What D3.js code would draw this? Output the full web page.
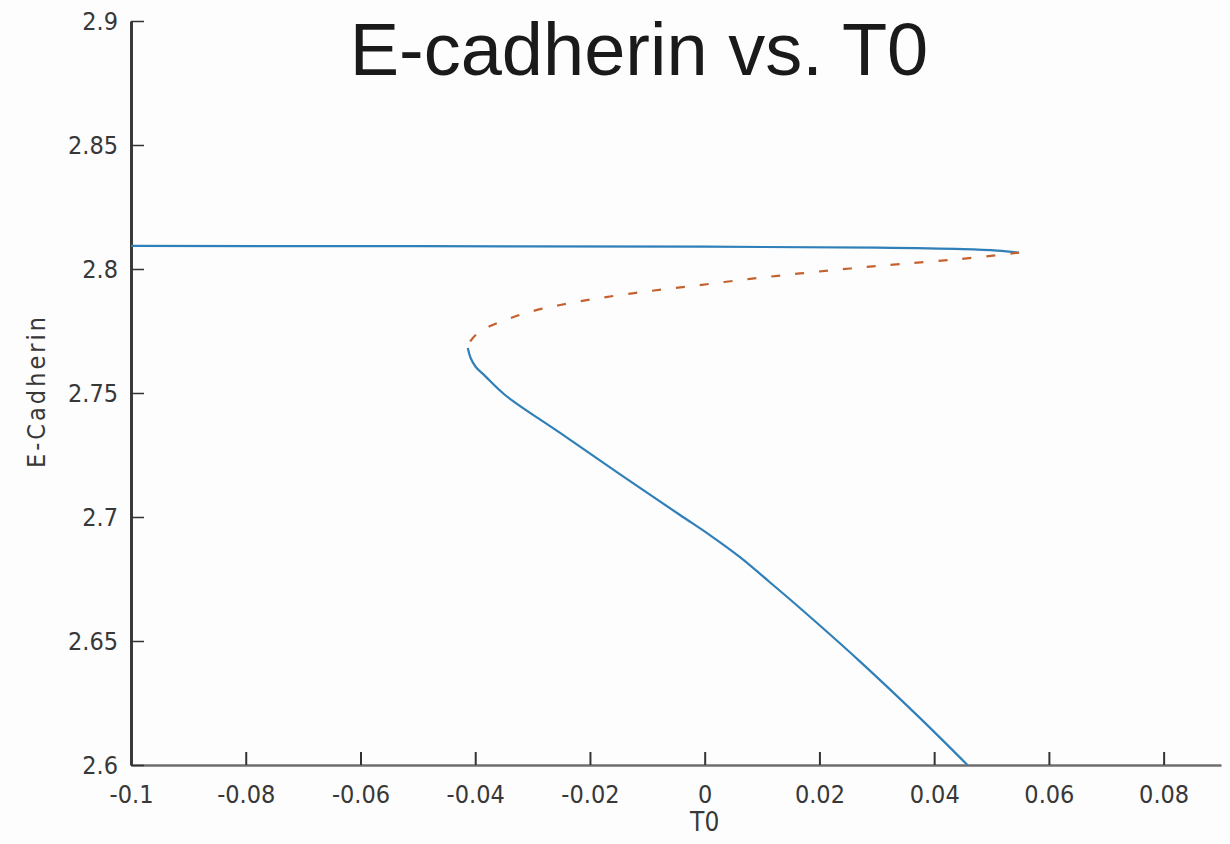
<!DOCTYPE html>
<html>
<head>
<meta charset="utf-8">
<script src="https://cdn.jsdelivr.net/npm/d3@7"></script>
<style>
  html, body { margin: 0; padding: 0; background: #fff; }
  .tick text { font-family: "DejaVu Sans Condensed", "DejaVu Sans", sans-serif; font-stretch: condensed; }
</style>
</head>
<body>
<div id="chart"></div>
<script>
// Stable upper branch
const upperT0 = [-0.1, -0.05, 0.0, 0.03, 0.045, 0.051, 0.0548];
const upperEcad = [2.8093, 2.8092, 2.8090, 2.8086, 2.8080, 2.8074, 2.8066];

// Unstable middle branch (dashed)
const midT0 = [0.0548, 0.0445, 0.0340, 0.0253, 0.0166, 0.0079, -0.0009, -0.0096, -0.0183,
  -0.0252, -0.0305, -0.0343, -0.0374, -0.0395, -0.0408, -0.0413];
const midEcad = [2.8066, 2.8040, 2.8020, 2.8002, 2.7982, 2.7960, 2.7935, 2.7911, 2.7883,
  2.7855, 2.7827, 2.7798, 2.7770, 2.7742, 2.7710, 2.7681];

// Stable lower branch
const lowerT0 = [-0.0413, -0.0408, -0.0399, -0.0383, -0.0348, -0.0252, -0.0148, -0.0043, 0.0009,
  0.0061, 0.0113, 0.0166, 0.0270, 0.0375, 0.0458];
const lowerEcad = [2.7681, 2.7641, 2.7605, 2.7569, 2.7492, 2.7339, 2.7173, 2.7008, 2.6927,
  2.6839, 2.6738, 2.6633, 2.6419, 2.6190, 2.6000];

const xTicks = [-0.1, -0.08, -0.06, -0.04, -0.02, 0, 0.02, 0.04, 0.06, 0.08];
const yTicks = [2.6, 2.65, 2.7, 2.75, 2.8, 2.85, 2.9];

const width = 1230;
const height = 844;

const svg = d3.select("#chart")
    .append("svg")
    .attr("width", width)
    .attr("height", height)
    .style("display", "block");

svg.append("rect").attr("width", width).attr("height", height).attr("fill", "#fdfdfd");

const x = d3.scaleLinear().domain([-0.1, 0.09]).range([131, 1221]);
const y = d3.scaleLinear().domain([2.6, 2.9]).range([765, 21]);

// x axis, ticks pointing up
const xAxis = svg.append("g")
    .attr("transform", `translate(0,${y(2.6)})`)
    .call(d3.axisBottom(x).tickValues(xTicks).tickFormat(d => String(d)).tickSizeInner(-13).tickSizeOuter(0).tickPadding(20));
xAxis.select(".domain").attr("stroke", "#6e6e6e").attr("stroke-width", 2.5);
xAxis.selectAll(".tick line").attr("stroke", "#333").attr("stroke-width", 2);
xAxis.selectAll(".tick text").attr("font-size", 25).attr("fill", "#383838").attr("dy", "0.71em");

// y axis, ticks pointing right
const yAxis = svg.append("g")
    .attr("transform", `translate(${x(-0.1)},0)`)
    .call(d3.axisLeft(y).tickValues(yTicks).tickFormat(d => String(d)).tickSizeInner(-13).tickSizeOuter(0).tickPadding(13));
yAxis.select(".domain").attr("stroke", "#3a3a3a").attr("stroke-width", 3);
yAxis.selectAll(".tick line").attr("stroke", "#333").attr("stroke-width", 1.5);
yAxis.selectAll(".tick text").attr("font-size", 25).attr("fill", "#383838");

// lines
const line = d3.line().x(d => x(d[0])).y(d => y(d[1])).curve(d3.curveCatmullRom);

svg.append("path")
    .datum(upperT0.map((t, i) => [t, upperEcad[i]]))
    .attr("fill", "none").attr("stroke", "#2f7fb8").attr("stroke-width", 2.2)
    .attr("d", line);

svg.append("path")
    .datum(midT0.map((t, i) => [t, midEcad[i]]))
    .attr("fill", "none").attr("stroke", "#c4622f").attr("stroke-width", 2.2)
    .attr("stroke-dasharray", "9,15")
    .attr("d", line);

svg.append("path")
    .datum(lowerT0.map((t, i) => [t, lowerEcad[i]]))
    .attr("fill", "none").attr("stroke", "#2f7fb8").attr("stroke-width", 2.2)
    .attr("d", line);

// labels
svg.append("text")
    .attr("x", 639).attr("y", 75)
    .attr("text-anchor", "middle")
    .attr("font-family", "Liberation Sans, Arial, sans-serif")
    .attr("font-size", 74)
    .attr("fill", "#1a1a1a")
    .text("E-cadherin vs. T0");

svg.append("text")
    .attr("transform", "translate(45,391) rotate(-90)")
    .attr("text-anchor", "middle")
    .attr("font-family", "DejaVu Sans Condensed, DejaVu Sans, sans-serif")
    .attr("font-stretch", "condensed")
    .attr("font-size", 25)
    .attr("letter-spacing", 3)
    .attr("fill", "#383838")
    .text("E-Cadherin");

svg.append("text")
    .attr("x", x(0)).attr("y", 831)
    .attr("text-anchor", "middle")
    .attr("font-family", "DejaVu Sans Condensed, DejaVu Sans, sans-serif")
    .attr("font-stretch", "condensed")
    .attr("font-size", 26)
    .attr("fill", "#383838")
    .text("T0");
</script>
</body>
</html>
